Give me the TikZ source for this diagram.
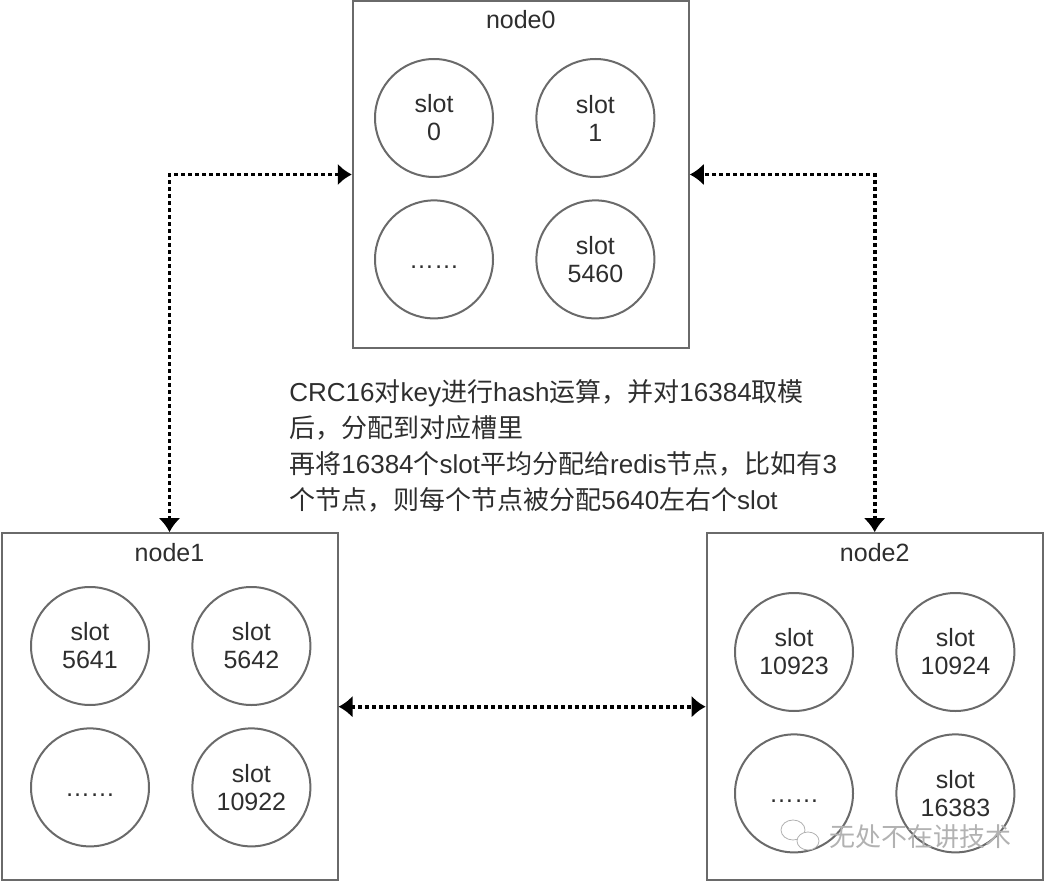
\documentclass[tikz,border=0pt]{standalone}
\usepackage{fontspec}
\setmainfont{Liberation Sans}
\newfontfamily\zhfont{Noto Sans CJK SC}
\usetikzlibrary{arrows.meta,positioning}
\newcommand{\zh}[1]{{\zhfont #1}}
\definecolor{edgegray}{HTML}{6A6A6A}
\definecolor{inkgray}{HTML}{2E2E2E}

\begin{document}
\begin{tikzpicture}[
  x=0.5pt, y=-0.5pt,
  font=\fontsize{12.5}{14}\selectfont,
  server/.style={draw=edgegray, line width=1pt, minimum width=168pt, minimum height=173.5pt, inner sep=0pt},
  title/.style={inner sep=0pt, text=inkgray},
  slot/.style={circle, draw=edgegray, line width=1pt, minimum size=59pt, inner sep=0pt, align=center, text=inkgray},
  note/.style={align=left, inner sep=0pt, text=inkgray, font=\fontsize{13}{18}\selectfont},
  link/.style={{Latex[length=7pt,width=11pt]}-{Latex[length=7pt,width=11pt]}, line width=1.8pt, dash pattern=on 1.8pt off 1.7pt},
  node distance=10.7pt and 20.7pt
]
\useasboundingbox (0,0) rectangle (1044,882);
% the three redis nodes
\node[server] (n0) at (520.8,174.5) {};
\node[server] (n1) at (169.5,706.7) {};
\node[server] (n2) at (874.7,706.7) {};
\node[title, below=5.2pt of n0.north] (t0) {node0};
\node[title, below=5.2pt of n1.north] (t1) {node1};
\node[title, below=5.2pt of n2.north] (t2) {node2};
% slots of node0
\node[slot] (a1) at (434,118) {slot\\0};
\node[slot, right=of a1] (a2) {slot\\1};
\node[slot, below=of a1] (a3) {\vphantom{0}……};
\node[slot, right=of a3] (a4) {slot\\5460};
% slots of node1
\node[slot] (b1) at (90,646) {slot\\5641};
\node[slot, right=of b1] (b2) {slot\\5642};
\node[slot, below=of b1] (b3) {\vphantom{0}……};
\node[slot, right=of b3] (b4) {slot\\10922};
% slots of node2
\node[slot] (c1) at (794,652) {slot\\10923};
\node[slot, right=of c1] (c2) {slot\\10924};
\node[slot, below=of c1] (c3) {\vphantom{0}……};
\node[slot, right=of c3] (c4) {slot\\16383};
\draw[link] (n1.north) |- (n0.west);
\draw[link] (n2.north) |- (n0.east);
\draw[link] (n1.east) -- (n2.west);
\node[note, anchor=north west] (info) at (289,379) {CRC16\zh{对}key\zh{进行}hash\zh{运算，并对}16384\zh{取模}\\
  \zh{后，分配到对应槽里}\\
  \zh{再将}16384\zh{个}slot\zh{平均分配给}redis\zh{节点，比如有}3\\
  \zh{个节点，则每个节点被分配}5640\zh{左右个}slot};
% watermark
\draw[black!30, fill=white] (793,830) ellipse [x radius=6pt, y radius=5pt];
\draw[black!30, fill=white] (808,841) ellipse [x radius=5.5pt, y radius=4.5pt];
\node[inner sep=0pt, text=black!30, font=\zhfont\fontsize{13}{15}\selectfont] (wm) at (920,837) {无处不在讲技术};
\end{tikzpicture}
\end{document}
